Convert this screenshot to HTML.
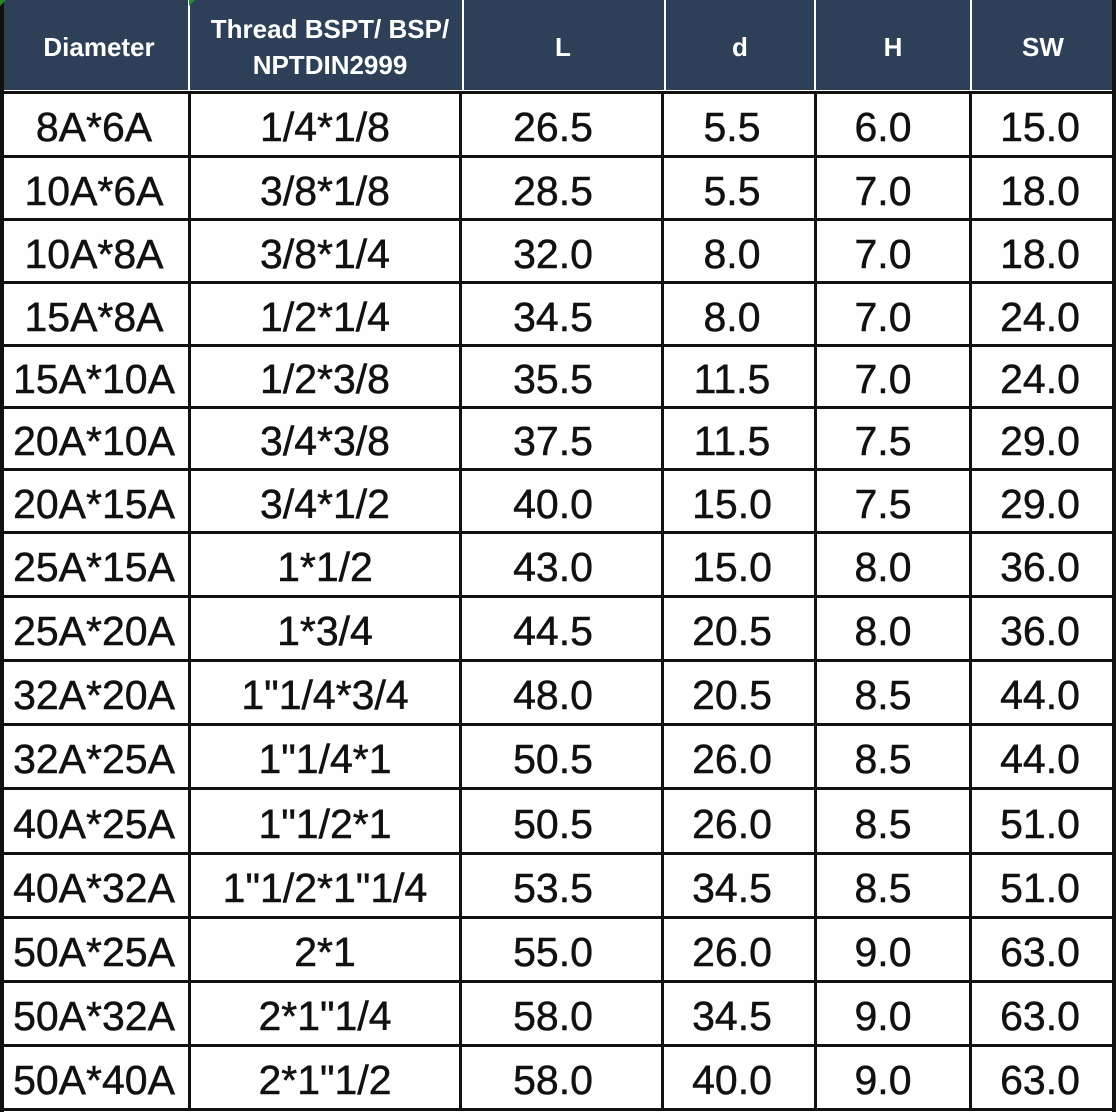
<!DOCTYPE html>
<html><head><meta charset="utf-8"><style>
html,body{margin:0;padding:0;}
body{width:1116px;height:1112px;position:relative;overflow:hidden;background:#fefefe;font-family:"Liberation Sans",Arial,sans-serif;}
.hd{position:absolute;left:0;top:0;width:1113px;height:90px;background:#2e3f58;}
.hs{position:absolute;top:0;height:90px;width:2px;background:#fff;}
.ht{position:absolute;width:260px;text-align:center;color:#fff;font-weight:bold;font-size:26px;line-height:36px;}
.h{position:absolute;left:0;width:1116px;height:3px;background:#111;}
.v{position:absolute;top:92px;height:1019px;width:3px;background:#111;}
.t{position:absolute;width:240px;height:50px;line-height:50px;text-align:center;font-size:41px;color:#111;white-space:nowrap;-webkit-text-stroke:0.5px #111;}
</style></head><body>
<div class="hd"></div>
<div style="position:absolute;left:0;top:90px;width:1116px;height:2px;background:#fff"></div>
<div class="hs" style="left:188px"></div>
<div class="hs" style="left:462px"></div>
<div class="hs" style="left:664px"></div>
<div class="hs" style="left:814px"></div>
<div class="hs" style="left:970px"></div>
<div style="position:absolute;left:0;top:0;width:4px;height:1112px;background:#111"></div>
<div style="position:absolute;left:1112px;top:0;width:4px;height:1112px;background:#111"></div>
<div style="position:absolute;left:0;top:0;width:0;height:0;border-top:6px solid #2a8a2a;border-right:6px solid transparent"></div>
<div style="position:absolute;left:189px;top:0;width:0;height:0;border-top:6px solid #2a8a2a;border-right:6px solid transparent"></div>

<div class="ht" style="left:-31px;top:29px">Diameter</div>
<div class="ht" style="left:200px;top:11px">Thread BSPT/ BSP/<br>NPTDIN2999</div>
<div class="ht" style="left:433px;top:29px">L</div>
<div class="ht" style="left:610px;top:29px">d</div>
<div class="ht" style="left:763px;top:29px">H</div>
<div class="ht" style="left:913px;top:29px">SW</div>

<div class="h" style="top:91px"></div>
<div class="h" style="top:155px"></div>
<div class="h" style="top:218px"></div>
<div class="h" style="top:281px"></div>
<div class="h" style="top:344px"></div>
<div class="h" style="top:406px"></div>
<div class="h" style="top:468px"></div>
<div class="h" style="top:531px"></div>
<div class="h" style="top:595px"></div>
<div class="h" style="top:659px"></div>
<div class="h" style="top:723px"></div>
<div class="h" style="top:787px"></div>
<div class="h" style="top:852px"></div>
<div class="h" style="top:916px"></div>
<div class="h" style="top:980px"></div>
<div class="h" style="top:1044px"></div>
<div class="h" style="top:1108px"></div>

<div class="v" style="left:188px"></div>
<div class="v" style="left:459px"></div>
<div class="v" style="left:661px"></div>
<div class="v" style="left:814px"></div>
<div class="v" style="left:969px"></div>

<div class="t" style="left:-26px;top:101.5px">8A*6A</div>
<div class="t" style="left:205px;top:101.5px">1/4*1/8</div>
<div class="t" style="left:433px;top:101.5px">26.5</div>
<div class="t" style="left:612px;top:101.5px">5.5</div>
<div class="t" style="left:763px;top:101.5px">6.0</div>
<div class="t" style="left:920px;top:101.5px">15.0</div>

<div class="t" style="left:-26px;top:165.5px">10A*6A</div>
<div class="t" style="left:205px;top:165.5px">3/8*1/8</div>
<div class="t" style="left:433px;top:165.5px">28.5</div>
<div class="t" style="left:612px;top:165.5px">5.5</div>
<div class="t" style="left:763px;top:165.5px">7.0</div>
<div class="t" style="left:920px;top:165.5px">18.0</div>

<div class="t" style="left:-26px;top:228.5px">10A*8A</div>
<div class="t" style="left:205px;top:228.5px">3/8*1/4</div>
<div class="t" style="left:433px;top:228.5px">32.0</div>
<div class="t" style="left:612px;top:228.5px">8.0</div>
<div class="t" style="left:763px;top:228.5px">7.0</div>
<div class="t" style="left:920px;top:228.5px">18.0</div>

<div class="t" style="left:-26px;top:291.5px">15A*8A</div>
<div class="t" style="left:205px;top:291.5px">1/2*1/4</div>
<div class="t" style="left:433px;top:291.5px">34.5</div>
<div class="t" style="left:612px;top:291.5px">8.0</div>
<div class="t" style="left:763px;top:291.5px">7.0</div>
<div class="t" style="left:920px;top:291.5px">24.0</div>

<div class="t" style="left:-26px;top:354px">15A*10A</div>
<div class="t" style="left:205px;top:354px">1/2*3/8</div>
<div class="t" style="left:433px;top:354px">35.5</div>
<div class="t" style="left:612px;top:354px">11.5</div>
<div class="t" style="left:763px;top:354px">7.0</div>
<div class="t" style="left:920px;top:354px">24.0</div>

<div class="t" style="left:-26px;top:416px">20A*10A</div>
<div class="t" style="left:205px;top:416px">3/4*3/8</div>
<div class="t" style="left:433px;top:416px">37.5</div>
<div class="t" style="left:612px;top:416px">11.5</div>
<div class="t" style="left:763px;top:416px">7.5</div>
<div class="t" style="left:920px;top:416px">29.0</div>

<div class="t" style="left:-26px;top:478.5px">20A*15A</div>
<div class="t" style="left:205px;top:478.5px">3/4*1/2</div>
<div class="t" style="left:433px;top:478.5px">40.0</div>
<div class="t" style="left:612px;top:478.5px">15.0</div>
<div class="t" style="left:763px;top:478.5px">7.5</div>
<div class="t" style="left:920px;top:478.5px">29.0</div>

<div class="t" style="left:-26px;top:542px">25A*15A</div>
<div class="t" style="left:205px;top:542px">1*1/2</div>
<div class="t" style="left:433px;top:542px">43.0</div>
<div class="t" style="left:612px;top:542px">15.0</div>
<div class="t" style="left:763px;top:542px">8.0</div>
<div class="t" style="left:920px;top:542px">36.0</div>

<div class="t" style="left:-26px;top:606px">25A*20A</div>
<div class="t" style="left:205px;top:606px">1*3/4</div>
<div class="t" style="left:433px;top:606px">44.5</div>
<div class="t" style="left:612px;top:606px">20.5</div>
<div class="t" style="left:763px;top:606px">8.0</div>
<div class="t" style="left:920px;top:606px">36.0</div>

<div class="t" style="left:-26px;top:670px">32A*20A</div>
<div class="t" style="left:205px;top:670px">1"1/4*3/4</div>
<div class="t" style="left:433px;top:670px">48.0</div>
<div class="t" style="left:612px;top:670px">20.5</div>
<div class="t" style="left:763px;top:670px">8.5</div>
<div class="t" style="left:920px;top:670px">44.0</div>

<div class="t" style="left:-26px;top:734px">32A*25A</div>
<div class="t" style="left:205px;top:734px">1"1/4*1</div>
<div class="t" style="left:433px;top:734px">50.5</div>
<div class="t" style="left:612px;top:734px">26.0</div>
<div class="t" style="left:763px;top:734px">8.5</div>
<div class="t" style="left:920px;top:734px">44.0</div>

<div class="t" style="left:-26px;top:798.5px">40A*25A</div>
<div class="t" style="left:205px;top:798.5px">1"1/2*1</div>
<div class="t" style="left:433px;top:798.5px">50.5</div>
<div class="t" style="left:612px;top:798.5px">26.0</div>
<div class="t" style="left:763px;top:798.5px">8.5</div>
<div class="t" style="left:920px;top:798.5px">51.0</div>

<div class="t" style="left:-26px;top:863px">40A*32A</div>
<div class="t" style="left:205px;top:863px">1"1/2*1"1/4</div>
<div class="t" style="left:433px;top:863px">53.5</div>
<div class="t" style="left:612px;top:863px">34.5</div>
<div class="t" style="left:763px;top:863px">8.5</div>
<div class="t" style="left:920px;top:863px">51.0</div>

<div class="t" style="left:-26px;top:927px">50A*25A</div>
<div class="t" style="left:205px;top:927px">2*1</div>
<div class="t" style="left:433px;top:927px">55.0</div>
<div class="t" style="left:612px;top:927px">26.0</div>
<div class="t" style="left:763px;top:927px">9.0</div>
<div class="t" style="left:920px;top:927px">63.0</div>

<div class="t" style="left:-26px;top:991px">50A*32A</div>
<div class="t" style="left:205px;top:991px">2*1"1/4</div>
<div class="t" style="left:433px;top:991px">58.0</div>
<div class="t" style="left:612px;top:991px">34.5</div>
<div class="t" style="left:763px;top:991px">9.0</div>
<div class="t" style="left:920px;top:991px">63.0</div>

<div class="t" style="left:-26px;top:1055px">50A*40A</div>
<div class="t" style="left:205px;top:1055px">2*1"1/2</div>
<div class="t" style="left:433px;top:1055px">58.0</div>
<div class="t" style="left:612px;top:1055px">40.0</div>
<div class="t" style="left:763px;top:1055px">9.0</div>
<div class="t" style="left:920px;top:1055px">63.0</div>
</body></html>
